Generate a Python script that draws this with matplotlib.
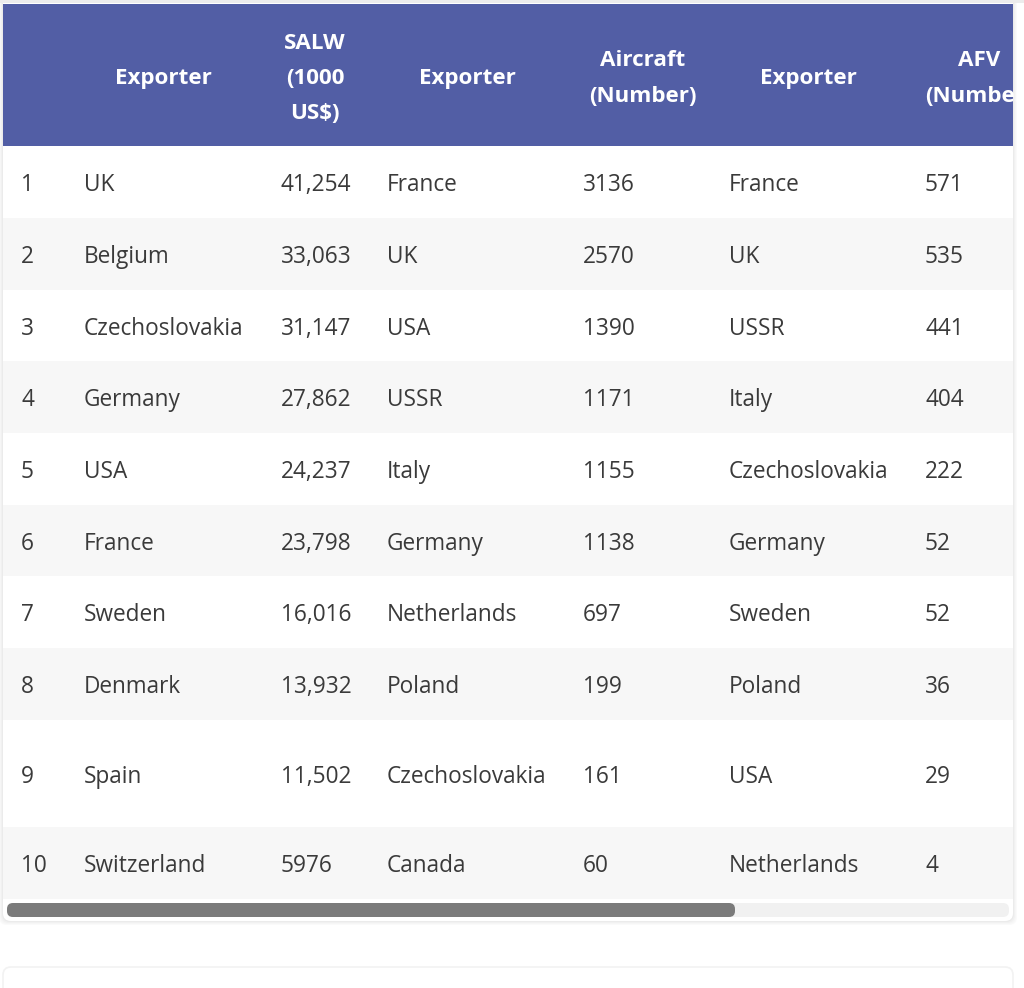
import matplotlib
matplotlib.use("Agg")
import matplotlib.pyplot as plt
import matplotlib.patches as patches

plt.rcParams['font.family'] = ['Open Sans', 'DejaVu Sans']

ranks = ['1', '2', '3', '4', '5', '6', '7', '8', '9', '10']
salw_exporters = ['UK', 'Belgium', 'Czechoslovakia', 'Germany', 'USA', 'France',
                  'Sweden', 'Denmark', 'Spain', 'Switzerland']
salw_values = ['41,254', '33,063', '31,147', '27,862', '24,237', '23,798',
               '16,016', '13,932', '11,502', '5976']
aircraft_exporters = ['France', 'UK', 'USA', 'USSR', 'Italy', 'Germany',
                      'Netherlands', 'Poland', 'Czechoslovakia', 'Canada']
aircraft_values = ['3136', '2570', '1390', '1171', '1155', '1138',
                   '697', '199', '161', '60']
afv_exporters = ['France', 'UK', 'USSR', 'Italy', 'Czechoslovakia', 'Germany',
                 'Sweden', 'Poland', 'USA', 'Netherlands']
afv_values = ['571', '535', '441', '404', '222', '52', '52', '36', '29', '4']

headers = ['Exporter', 'SALW\n(1000\nUS$)', 'Exporter', 'Aircraft\n(Number)',
           'Exporter', 'AFV\n(Number)']
header_x = [163.5, 315, 467, 643, 808, 979]

columns = [ranks, salw_exporters, salw_values, aircraft_exporters,
           aircraft_values, afv_exporters, afv_values]
column_x = [21, 83.6, 280.6, 387, 583, 728.7, 925]
row_edges = [146, 218, 290, 361, 433, 505, 576, 648, 720, 827, 899]

fig = plt.figure(figsize=(10.24, 9.88), dpi=100, facecolor='white')
ax = fig.add_axes([0, 0, 1, 1])
ax.set_xlim(0, 1024)
ax.set_ylim(988, 0)
ax.axis('off')

# card shadow, soft on all sides
for off, col in [(4, '#fafafa'), (3, '#f6f6f6'), (2, '#f1f1f1'), (1, '#ebebeb')]:
    ax.add_patch(patches.FancyBboxPatch((3 - off, -20), 1010 + 2 * off, 941 + off,
                                        boxstyle="round,pad=0,rounding_size=8",
                                        fc=col, ec='none'))
ax.add_patch(patches.FancyBboxPatch((3, -20), 1010, 941,
                                    boxstyle="round,pad=0,rounding_size=8",
                                    fc='white', ec='none'))
ax.add_patch(patches.Rectangle((0, 0), 1024, 3, fc='#ececec', ec='none'))

# header band
ax.add_patch(patches.Rectangle((3, 4), 1010, 142, fc='#525ea5', ec='none'))
clip = patches.Rectangle((3, 4), 1010, 142, transform=ax.transData)
for x, label in zip(header_x, headers):
    lines = label.split('\n')
    for j, line in enumerate(lines):
        y = 76 + (j - (len(lines) - 1) / 2) * 35
        t = ax.text(x, y, line, color='white', fontsize=16.1, fontweight='bold',
                    ha='center', va='center_baseline')
        t.set_clip_path(clip)

# rows
for i in range(len(ranks)):
    top, bottom = row_edges[i], row_edges[i + 1]
    if i % 2 == 1:
        ax.add_patch(patches.Rectangle((3, top), 1010, bottom - top, fc='#f7f7f7', ec='none'))
    for x, col in zip(column_x, columns):
        ax.text(x, (top + bottom) / 2 + 0.3, col[i], color='#3a3a3a', fontsize=16.3,
                ha='left', va='center_baseline')

# scrollbar
ax.add_patch(patches.FancyBboxPatch((7, 903), 1002, 14, boxstyle="round,pad=0,rounding_size=6",
                                    fc='#f1f1f1', ec='none'))
ax.add_patch(patches.FancyBboxPatch((7, 903), 728, 14, boxstyle="round,pad=0,rounding_size=6",
                                    fc='#7b7b7b', ec='none'))

# next card
ax.add_patch(patches.FancyBboxPatch((3, 967), 1010, 40, boxstyle="round,pad=0,rounding_size=8",
                                    fc='white', ec='#f2f2f2', lw=1.2))

fig.savefig("out.png", dpi=100)
